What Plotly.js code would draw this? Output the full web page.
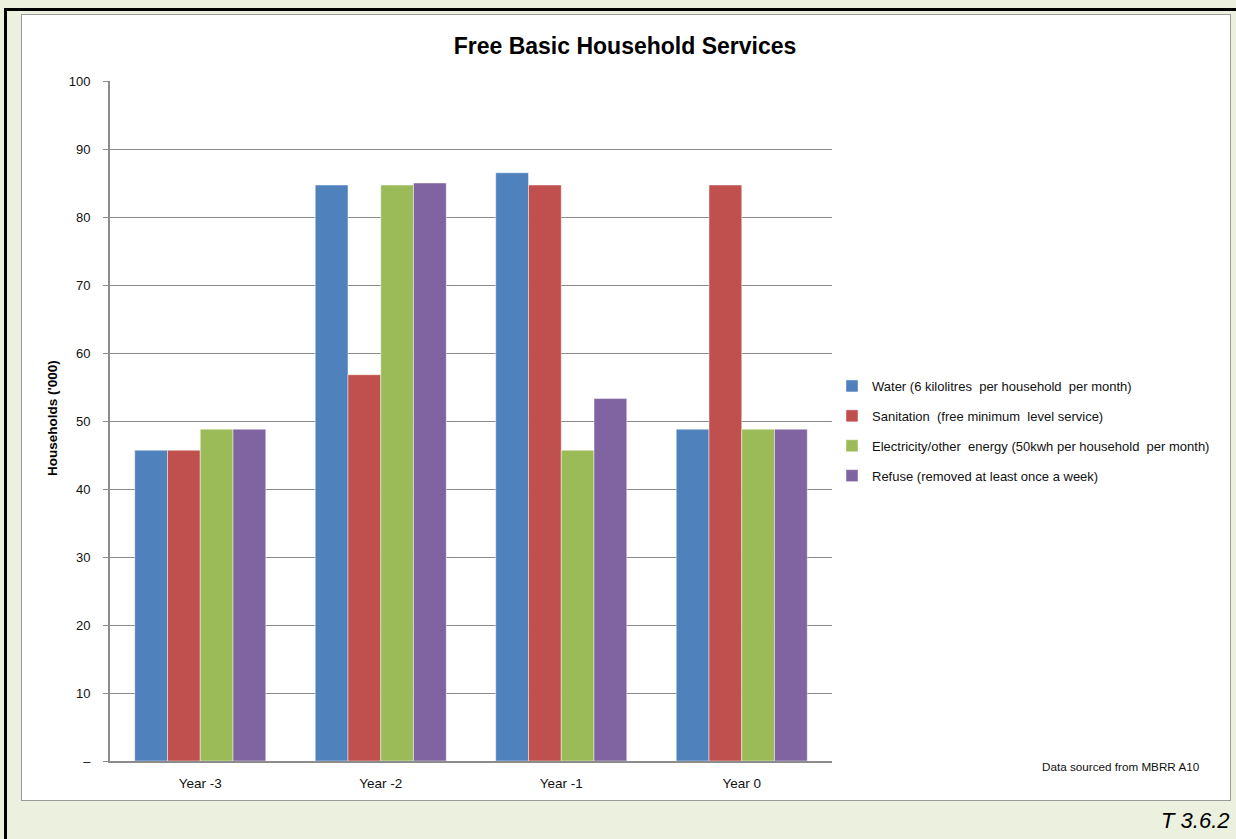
<!DOCTYPE html>
<html>
<head>
<meta charset="utf-8">
<script src="https://cdn.plot.ly/plotly-3.0.1.min.js"></script>
<style>
  html, body { margin: 0; padding: 0; }
  body { width: 1236px; height: 839px; background: #EBF1DE; position: relative; overflow: hidden; }
  #frame { position: absolute; left: 4px; top: 8px; width: 1300px; height: 900px; border: 3px solid #000; box-sizing: border-box; }
  #card { position: absolute; left: 21px; top: 14px; width: 1210px; height: 787px; background: #fff; border: 1px solid #9a9a9a; box-sizing: border-box; }
  #chart { position: absolute; left: 0; top: 0; width: 1236px; height: 839px; }
</style>
</head>
<body>
<div id="frame"></div>
<div id="card"></div>
<div id="chart"></div>
<script>
// Households receiving free basic services ('000)
const years = ['Year -3', 'Year -2', 'Year -1', 'Year 0'];
const water = [45.7, 84.7, 86.5, 48.8];
const sanitation = [45.7, 56.8, 84.7, 84.7];
const electricity = [48.8, 84.7, 45.7, 48.8];
const refuse = [48.8, 85.0, 53.3, 48.8];

const seriesNames = [
  'Water (6 kilolitres  per household  per month)',
  'Sanitation  (free minimum  level service)',
  'Electricity/other  energy (50kwh per household  per month)',
  'Refuse (removed at least once a week)'
];
const seriesColors = ['#4F81BD', '#C0504D', '#9BBB59', '#8064A2'];

const yTickVals = [0, 10, 20, 30, 40, 50, 60, 70, 80, 90, 100];
const yTickText = ['–', '10', '20', '30', '40', '50', '60', '70', '80', '90', '100'];

const font = 'Liberation Sans, Arial, sans-serif';

const traces = [water, sanitation, electricity, refuse].map((vals, i) => ({
  type: 'bar',
  x: years,
  y: vals,
  name: seriesNames[i],
  legendgroup: 'g' + i,
  marker: { color: seriesColors[i], line: { color: 'rgba(255,255,255,0.45)', width: 1 } },
  hoverinfo: 'x+y+name'
}));

const layout = {
  width: 1236,
  height: 839,
  margin: { l: 110, r: 404, t: 81, b: 78 },
  paper_bgcolor: 'rgba(0,0,0,0)',
  plot_bgcolor: 'rgba(0,0,0,0)',
  font: { family: font, size: 13, color: '#111' },
  barmode: 'group',
  bargap: 0.274,
  bargroupgap: 0,
  title: {
    text: '<b>Free Basic Household Services</b>',
    font: { family: font, size: 23, color: '#000' },
    xref: 'container', x: 625 / 1236, xanchor: 'center',
    yref: 'container', y: 1 - 46 / 839, yanchor: 'middle'
  },
  xaxis: {
    type: 'category',
    showline: true, linecolor: '#8c8c8c', linewidth: 2,
    ticks: '', showgrid: false,
    ticklabelstandoff: 9,
    tickfont: { family: font, size: 13.5, color: '#111' }
  },
  yaxis: {
    range: [0, 100],
    tickvals: yTickVals, ticktext: yTickText,
    ticks: 'outside', ticklen: 5, tickcolor: '#8c8c8c', tickwidth: 1,
    showline: true, linecolor: '#8c8c8c', linewidth: 2,
    showgrid: true, gridcolor: '#8a8a8a', gridwidth: 1.3,
    zeroline: false,
    ticklabelstandoff: 10,
    tickfont: { family: font, size: 13, color: '#111' }
  },
  showlegend: true,
  legend: {
    x: 1.0, xanchor: 'left',
    y: (761 - 431) / 680, yanchor: 'middle',
    traceorder: 'grouped',
    tracegroupgap: 10,
    font: { family: font, size: 13, color: '#111' },
    bgcolor: 'rgba(0,0,0,0)'
  },
  annotations: [
    {
      text: "<b>Households ('000)</b>", textangle: -90,
      xref: 'paper', yref: 'paper', x: (52 - 110) / 722, y: (761 - 418) / 680,
      xanchor: 'center', yanchor: 'middle', showarrow: false,
      font: { family: font, size: 13.5, color: '#000' }
    },
    {
      text: 'Data sourced from MBRR A10',
      xref: 'paper', yref: 'paper', x: (1121 - 110) / 722, y: (761 - 766) / 680,
      xanchor: 'center', yanchor: 'middle', showarrow: false,
      font: { family: font, size: 11.7, color: '#111' }
    },
    {
      text: '<i>T 3.6.2</i>',
      xref: 'paper', yref: 'paper', x: (1231 - 110) / 722, y: (761 - 821) / 680,
      xanchor: 'right', yanchor: 'middle', showarrow: false,
      font: { family: font, size: 22, color: '#000' }
    }
  ]
};

Plotly.newPlot('chart', traces, layout, { displayModeBar: false });
</script>
</body>
</html>
